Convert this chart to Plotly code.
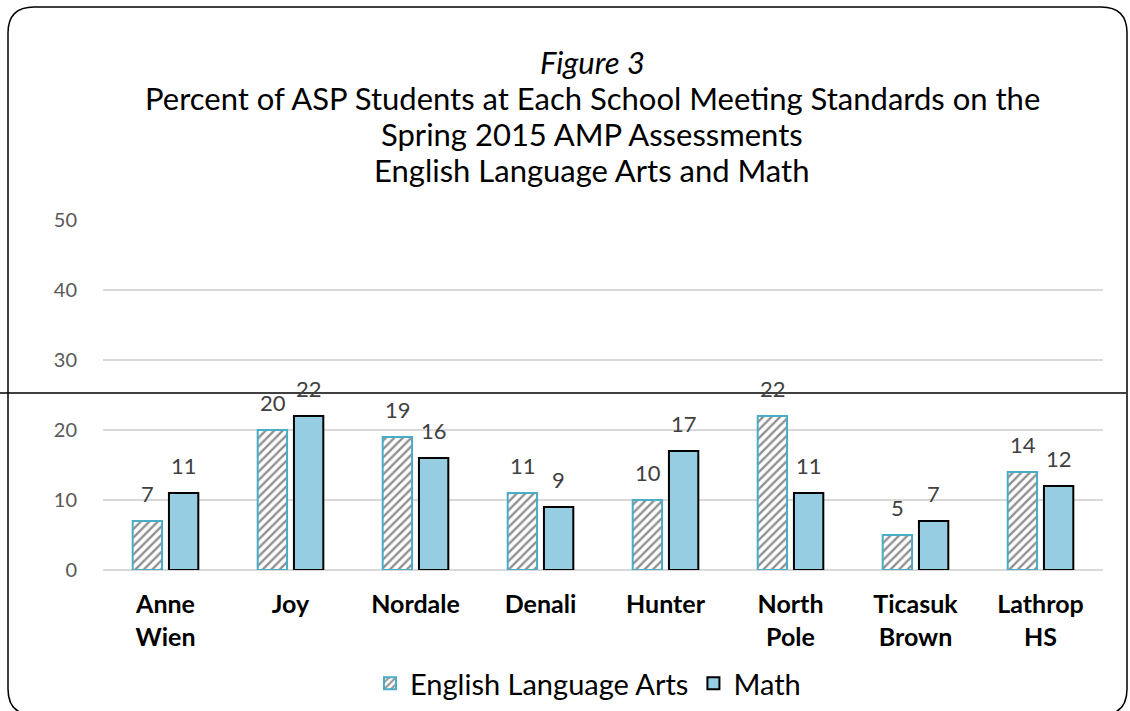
import plotly.graph_objects as go

schools = ["Anne<br>Wien", "Joy", "Nordale", "Denali", "Hunter", "North<br>Pole", "Ticasuk<br>Brown", "Lathrop<br>HS"]
ela = [7, 20, 19, 11, 10, 22, 5, 14]
math = [11, 22, 16, 9, 17, 11, 7, 12]
y_ticks = [0, 10, 20, 30, 40, 50]
title_lines = ["<i>Figure 3</i>",
               "Percent of ASP Students at Each School Meeting Standards on the",
               "Spring 2015 AMP Assessments",
               "English Language Arts and Math"]

FONT = "Lato"
W, H = 1130, 711
L, R, T, B = 103, 27, 220, 141

fig = go.Figure()
fig.add_trace(go.Bar(
    name="English Language Arts", x=schools, y=ela,
    marker=dict(color="white", line=dict(color="#4BACC6", width=2),
                pattern=dict(shape="/", fgcolor="#222222", bgcolor="white", size=6, solidity=0.4)),
))
fig.add_trace(go.Bar(
    name="Math", x=schools, y=math,
    marker=dict(color="#96CDE2", line=dict(color="black", width=2)),
))

for i, s in enumerate(schools):
    fig.add_annotation(x=s, y=ela[i], text=str(ela[i]), showarrow=False, xshift=-18, yshift=28,
                       font=dict(family=FONT, size=22, color="#404040"))
    fig.add_annotation(x=s, y=math[i], text=str(math[i]), showarrow=False, xshift=18, yshift=28,
                       font=dict(family=FONT, size=22, color="#404040"))

pw, ph = W - L - R, H - T - B
def px(x): return (x - L) / pw
def py(y): return (H - B - y) / ph

# title lines
for txt, yc in zip(title_lines, [62, 98, 134, 170]):
    fig.add_annotation(xref="paper", yref="paper", x=px(592), y=py(yc), text=txt, showarrow=False,
                       xanchor="center", yanchor="middle",
                       font=dict(family=FONT, size=31, color="black"))

# rounded border
x0, x1, y0, y1, r = 8, 1127, 7, 715, 26
path = (f"M {px(x0+r)},{py(y0)} L {px(x1-r)},{py(y0)} Q {px(x1)},{py(y0)} {px(x1)},{py(y0+r)} "
        f"L {px(x1)},{py(y1-r)} Q {px(x1)},{py(y1)} {px(x1-r)},{py(y1)} "
        f"L {px(x0+r)},{py(y1)} Q {px(x0)},{py(y1)} {px(x0)},{py(y1-r)} "
        f"L {px(x0)},{py(y0+r)} Q {px(x0)},{py(y0)} {px(x0+r)},{py(y0)} Z")
fig.add_shape(type="path", path=path, xref="paper", yref="paper", line=dict(color="black", width=1.5))
fig.add_shape(type="line", xref="paper", yref="paper", x0=px(0), x1=px(1126), y0=py(393), y1=py(393),
              line=dict(color="black", width=1.5))

fig.update_layout(
    width=W, height=H, margin=dict(l=L, r=R, t=T, b=B, autoexpand=False),
    paper_bgcolor="white", plot_bgcolor="white",
    barmode="group", bargap=0.42, bargroupgap=0.19,
    xaxis=dict(tickfont=dict(family=FONT, size=25, color="black", weight="bold"),
               showline=False, ticks="outside", ticklen=12, tickcolor="rgba(0,0,0,0)",
               showgrid=False, automargin=False),
    yaxis=dict(range=[0, 50], tickvals=y_ticks, showgrid=True, gridcolor="#D9D9D9", gridwidth=1.5,
               zeroline=True, zerolinecolor="#D9D9D9", zerolinewidth=1.5, automargin=False,
               tickfont=dict(family=FONT, size=20, color="#595959"), ticks="outside", ticklen=21,
               tickcolor="rgba(0,0,0,0)"),
    legend=dict(orientation="h", x=0.485, xanchor="center", yref="container", y=(H - 658) / H,
                yanchor="top", font=dict(family=FONT, size=29, color="black"), itemwidth=30),
    showlegend=True,
)
fig.write_html("out.html", config={"displayModeBar": False},
               post_script="document.body.style.margin='0';document.body.style.overflow='hidden';")
